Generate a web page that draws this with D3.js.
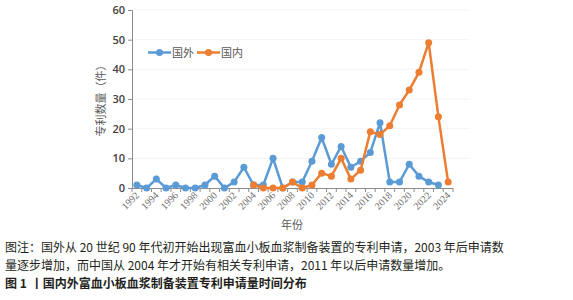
<!DOCTYPE html>
<html><head><meta charset="utf-8">
<script src="https://cdn.jsdelivr.net/npm/d3@7"></script>
<style>
body{margin:0;background:#fff;}
svg{display:block;}
</style></head>
<body>
<svg id="c" width="573" height="300"></svg>
<script>
const years = d3.range(1992, 2025).map(String);
const foreign = [1,0,3,0,1,0,0,1,4,0,2,7,1,1,10,0,2,2,9,17,8,14,7,9,12,22,2,2,8,4,2,1,null];
const domestic = [null,null,null,null,null,null,null,null,null,null,null,null,1,0,0,0,2,0,1,5,4,10,3,6,19,18,21,28,33,39,49,24,2];
const yTicks = [0,10,20,30,40,50,60];
const xLabels = years.filter((y,i)=>i%2===0);
const seriesNames = ["国外","国内"];
const colors = ["#5b9bd5","#ed7d31"];
const caption1 = "图注：国外从 20 世纪 90 年代初开始出现富血小板血浆制备装置的专利申请，2003 年后申请数";
const caption2 = "量逐步增加，而中国从 2004 年才开始有相关专利申请，2011 年以后申请数量增加。";
const caption3a = "图 1";
const caption3b = "丨国内外富血小板血浆制备装置专利申请量时间分布";

const svg = d3.select("#c");
const x = d3.scaleBand().domain(years).range([132, 453]).padding(0);
const y = d3.scaleLinear().domain([0,60]).range([188, 10]);

// faint gridlines
svg.append("g").selectAll("line").data(yTicks.slice(1)).join("line")
  .attr("x1",132).attr("x2",470).attr("y1",d=>y(d)).attr("y2",d=>y(d))
  .attr("stroke","#f3f3f3").attr("stroke-width",1);

// y axis
const yAxis = d3.axisLeft(y).tickValues(yTicks).tickSize(4).tickPadding(3);
const gy = svg.append("g").attr("transform","translate(132,0)").call(yAxis);
gy.select(".domain").attr("stroke","#8c8c8c");
gy.selectAll(".tick line").attr("stroke","#8c8c8c");
gy.selectAll(".tick text").attr("font-family","'Open Sans', 'Liberation Sans', sans-serif")
  .attr("font-size",11).attr("font-weight","600").attr("fill","#404040");

// x axis baseline and ticks at boundaries
const gx = svg.append("g").attr("transform","translate(0,188)");
gx.append("line").attr("x1",132).attr("x2",453).attr("y1",0.5).attr("y2",0.5).attr("stroke","#8c8c8c");
const bounds = years.map(d=>x(d)).concat([x(years[years.length-1])+x.bandwidth()]);
gx.selectAll("line.tk").data(bounds).join("line").attr("class","tk")
  .attr("x1",d=>d).attr("x2",d=>d).attr("y1",0).attr("y2",4).attr("stroke","#8c8c8c");
gx.selectAll("text").data(xLabels).join("text")
  .attr("transform",d=>`translate(${x(d)+x.bandwidth()/2+3},${8}) rotate(-45)`)
  .attr("text-anchor","end")
  .attr("font-family","'Liberation Serif', serif").attr("font-size",10)
  .attr("fill","#6e6e6e").text(d=>d);

// axis titles
svg.append("text").attr("transform","translate(105,98) rotate(-90)")
  .attr("text-anchor","middle").attr("font-family","'Noto Sans CJK SC', sans-serif")
  .attr("font-size",11).attr("fill","#595959").text("专利数量（件）");
svg.append("text").attr("x",292).attr("y",229).attr("text-anchor","middle")
  .attr("font-family","'Noto Sans CJK SC', sans-serif").attr("font-size",11)
  .attr("fill","#595959").text("年份");

// lines
const cx = d=>x(d.year)+x.bandwidth()/2;
const line = d3.line().x(cx).y(d=>y(d.v));
[foreign, domestic].forEach((arr, si)=>{
  const data = years.map((yr,i)=>({year:yr, v:arr[i]})).filter(d=>d.v!==null);
  const g = svg.append("g");
  g.append("path").datum(data).attr("d",line).attr("fill","none")
    .attr("stroke",colors[si]).attr("stroke-width",2.5).attr("stroke-linejoin","round");
  g.selectAll("circle").data(data).join("circle")
    .attr("cx",cx).attr("cy",d=>y(d.v)).attr("r",3.5).attr("fill",colors[si]);
});

// legend
const lg = svg.append("g");
const legX = [148, 197];
seriesNames.forEach((n,i)=>{
  const lx = legX[i];
  lg.append("line").attr("x1",lx).attr("x2",lx+23).attr("y1",52.5).attr("y2",52.5)
    .attr("stroke",colors[i]).attr("stroke-width",2.5);
  lg.append("circle").attr("cx",lx+11.5).attr("cy",52.5).attr("r",3.5).attr("fill",colors[i]);
  lg.append("text").attr("x",lx+24).attr("y",56.5).attr("font-family","'Noto Sans CJK SC', sans-serif")
    .attr("font-size",11).attr("fill","#595959").text(n);
});

// captions
const cap = svg.append("g").attr("font-family","'Noto Sans CJK SC', sans-serif").attr("fill","#231f20");
cap.append("text").attr("x",5).attr("y",252).attr("font-size",12).text(caption1);
cap.append("text").attr("x",5).attr("y",270).attr("font-size",12).text(caption2);
const t3 = cap.append("text").attr("x",5).attr("y",288).attr("font-size",12).attr("font-weight","bold");
t3.append("tspan").text(caption3a);
t3.append("tspan").attr("dx",4).text(caption3b);
</script>
</body></html>
